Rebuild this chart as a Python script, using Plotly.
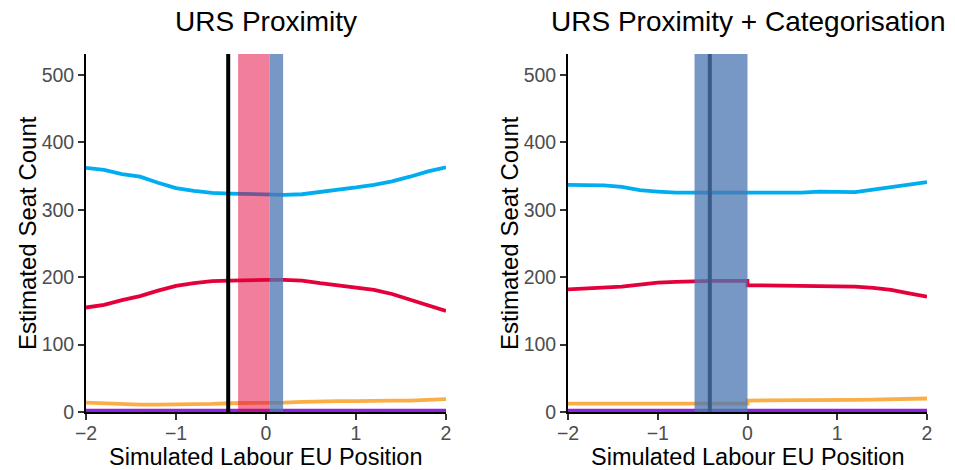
import plotly.graph_objects as go

# Simulated Labour EU position grid
x_left = [-2.0, -1.8, -1.6, -1.4, -1.2, -1.0, -0.8, -0.6, -0.4, -0.2, 0.0,
          0.2, 0.4, 0.6, 0.8, 1.0, 1.2, 1.4, 1.6, 1.8, 2.0]
con_left = [362, 359, 353, 349, 340, 332, 328, 325, 324, 323, 322,
            322, 323, 326, 329, 333, 337, 342, 349, 357, 363]
lab_left = [155, 159, 166, 172, 180, 187, 191, 194, 195, 196, 196,
            196, 195, 191, 188, 185, 181, 175, 167, 159, 150]
ld_left = [14, 13, 11, 11, 11, 11, 12, 12, 13, 13, 14,
           14, 15, 16, 16, 16, 17, 17, 17, 18, 19]
oth_left = [2] * 21

x_right = [-2.0, -1.8, -1.6, -1.4, -1.2, -1.0, -0.8, -0.6, -0.4, -0.2, -0.001,
           0.0, 0.2, 0.4, 0.6, 0.8, 1.0, 1.2, 1.4, 1.6, 1.8, 2.0]
con_right = [337, 337, 336, 334, 329, 327, 325.5, 325.5, 325.5, 325.5, 325.5,
             325.5, 325.5, 325.5, 325.5, 327, 327, 326, 330, 334, 338, 341]
lab_right = [182, 183, 185, 186, 189, 192, 193, 194, 194.5, 194.5, 194.5,
             188, 187.5, 187.5, 187.5, 186.5, 186, 186, 184, 181, 176, 171]
ld_right = [12.5, 12.5, 12.5, 12.5, 12.5, 12.5, 12.5, 12.5, 12.5, 12.5, 12.5,
            17, 17, 17, 17.5, 17.5, 18, 18, 18.5, 19, 19.5, 20]
oth_right = [2] * 22

# Reference position and shaded bands
labour_pos = -0.42
left_red_band = [-0.31, 0.04]
left_blue_band = [0.04, 0.19]
right_blue_band = [-0.59, 0.0]

titles = ["URS Proximity", "URS Proximity + Categorisation"]
x_title = "Simulated Labour EU Position"
y_title = "Estimated Seat Count"
x_ticks = [-2, -1, 0, 1, 2]
y_ticks = [0, 100, 200, 300, 400, 500]

CON = "#00AEEF"
LAB = "#E4003B"
LD = "#FBAE45"
OTH = "#8F22E0"
FONT = "Liberation Sans, Arial, sans-serif"

fig = go.Figure()
panels = [
    ("x", "y", x_left, [con_left, lab_left, ld_left, oth_left]),
    ("x2", "y2", x_right, [con_right, lab_right, ld_right, oth_right]),
]
for xa, ya, xs, series in panels:
    for ys, col in zip(series, [CON, LAB, LD, OTH]):
        fig.add_trace(go.Scatter(x=xs, y=ys, mode="lines", xaxis=xa, yaxis=ya,
                                 line=dict(color=col, width=3.8),
                                 showlegend=False, hoverinfo="skip"))

shapes = []
for xref, yref in [("x", "y domain"), ("x2", "y2 domain")]:
    shapes.append(dict(type="line", xref=xref, yref=yref, x0=labour_pos, x1=labour_pos,
                       y0=0, y1=1, line=dict(color="black", width=4), layer="above"))
shapes.append(dict(type="rect", xref="x", yref="y domain", x0=left_red_band[0],
                   x1=left_red_band[1], y0=0, y1=1, fillcolor="rgba(228,0,55,0.5)",
                   line=dict(width=0), layer="above"))
shapes.append(dict(type="rect", xref="x", yref="y domain", x0=left_blue_band[0],
                   x1=left_blue_band[1], y0=0, y1=1, fillcolor="rgba(76,118,179,0.76)",
                   line=dict(width=0), layer="above"))
shapes.append(dict(type="rect", xref="x2", yref="y2 domain", x0=right_blue_band[0],
                   x1=right_blue_band[1], y0=0, y1=1, fillcolor="rgba(76,118,179,0.76)",
                   line=dict(width=0), layer="above"))

W, H = 955, 470
x_dom = [[86 / W, 446 / W], [568 / W, 927 / W]]
y_dom = [1 - 412 / H, 1 - 54 / H]

axis_common = dict(showgrid=False, zeroline=False, showline=True, linecolor="black",
                   linewidth=1.8, ticks="outside", ticklen=6, tickwidth=1.8,
                   tickcolor="#333333", automargin=False,
                   tickfont=dict(family=FONT, size=19.5, color="#4D4D4D"))

layout = dict(
    width=W, height=H, margin=dict(l=0, r=0, t=0, b=0, autoexpand=False),
    paper_bgcolor="white", plot_bgcolor="white",
    shapes=shapes, font=dict(family=FONT),
)
for i in range(2):
    sx = "" if i == 0 else "2"
    layout["xaxis" + sx] = dict(axis_common, domain=x_dom[i], range=[-2, 2],
                                tickvals=x_ticks, anchor="y" + sx, ticklabelstandoff=-3)
    layout["yaxis" + sx] = dict(axis_common, domain=y_dom, range=[0, 531],
                                tickvals=y_ticks, anchor="x" + sx)

annotations = []
for i in range(2):
    cx = (x_dom[i][0] + x_dom[i][1]) / 2
    annotations.append(dict(text=titles[i], x=cx, y=1 - 22 / H, xref="paper", yref="paper",
                            showarrow=False, xanchor="center", yanchor="middle",
                            font=dict(family=FONT, size=28, color="black")))
    annotations.append(dict(text=x_title, x=cx, y=1 - 457 / H, xref="paper", yref="paper",
                            showarrow=False, xanchor="center", yanchor="middle", borderpad=0,
                            font=dict(family=FONT, size=23.5, color="black")))
    annotations.append(dict(text=y_title, x=(27 if i == 0 else 509) / W,
                            y=(y_dom[0] + y_dom[1]) / 2, xref="paper", yref="paper",
                            showarrow=False, xanchor="center", yanchor="middle", textangle=-90,
                            font=dict(family=FONT, size=24, color="black")))
layout["annotations"] = annotations

fig.update_layout(**layout)
fig.write_html("out.html")
